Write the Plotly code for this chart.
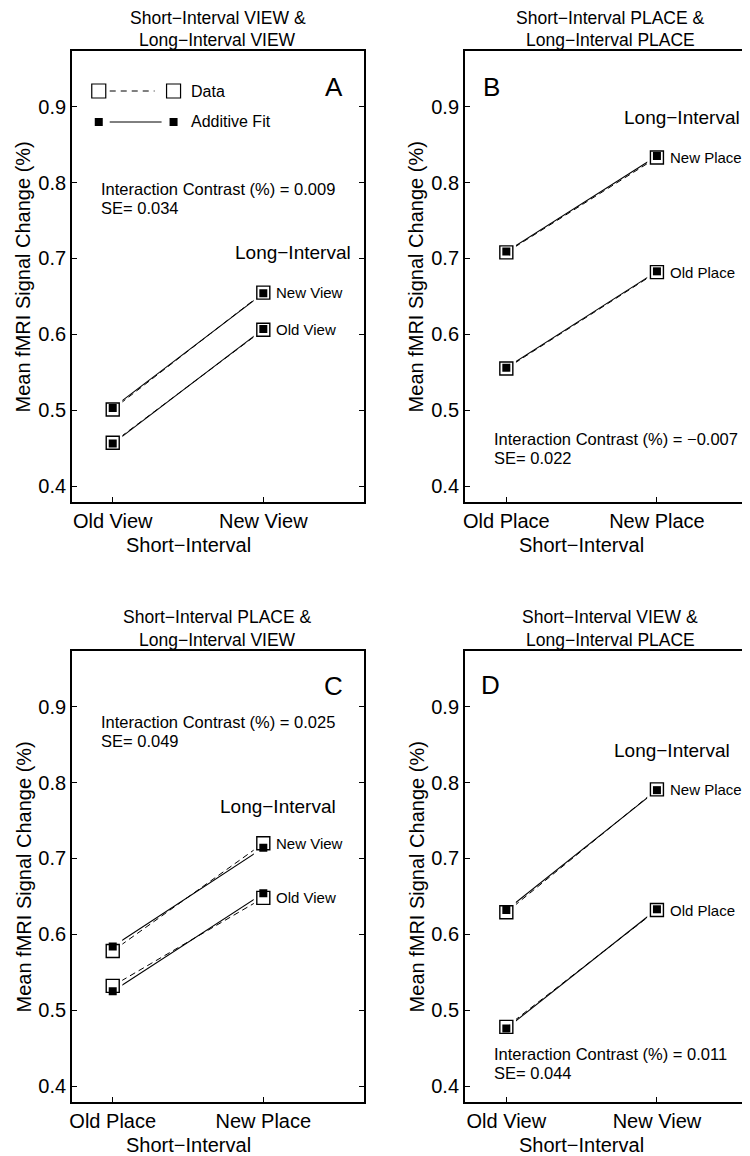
import plotly.graph_objects as go

# ---------------- data ----------------
short_ticks_A = ["Old View", "New View"]
short_ticks_B = ["Old Place", "New Place"]
short_ticks_C = ["Old Place", "New Place"]
short_ticks_D = ["Old View", "New View"]

long_labels_A = ["New View", "Old View"]
long_labels_B = ["New Place", "Old Place"]
long_labels_C = ["New View", "Old View"]
long_labels_D = ["New Place", "Old Place"]

# data = open squares, fit = filled squares; rows: long-interval new, long-interval old
data_A_new = [0.501, 0.655]
data_A_old = [0.457, 0.606]
fit_A_new = [0.503, 0.654]
fit_A_old = [0.456, 0.607]

data_B_new = [0.708, 0.833]
data_B_old = [0.555, 0.682]
fit_B_new = [0.709, 0.835]
fit_B_old = [0.556, 0.683]

data_C_new = [0.578, 0.720]
data_C_old = [0.532, 0.648]
fit_C_new = [0.584, 0.714]
fit_C_old = [0.525, 0.654]

data_D_new = [0.629, 0.791]
data_D_old = [0.478, 0.632]
fit_D_new = [0.632, 0.790]
fit_D_old = [0.476, 0.633]

titles = [
    ["Short\u2212Interval VIEW &", "Long\u2212Interval VIEW"],
    ["Short\u2212Interval PLACE &", "Long\u2212Interval PLACE"],
    ["Short\u2212Interval PLACE &", "Long\u2212Interval VIEW"],
    ["Short\u2212Interval VIEW &", "Long\u2212Interval PLACE"],
]
letters = ["A", "B", "C", "D"]
ic_texts = [
    ["Interaction Contrast (%) = 0.009", "SE= 0.034"],
    ["Interaction Contrast (%) = \u22120.007", "SE= 0.022"],
    ["Interaction Contrast (%) = 0.025", "SE= 0.049"],
    ["Interaction Contrast (%) = 0.011", "SE= 0.044"],
]
y_ticks = [0.4, 0.5, 0.6, 0.7, 0.8, 0.9]
y_tick_text = ["0.4", "0.5", "0.6", "0.7", "0.8", "0.9"]
x_pos = [1, 2]

FONT = "Liberation Sans, Arial, Helvetica, sans-serif"
OFF = 8  # page body margin of the browser
W, H = 750 - OFF, 1156 - OFF


def px(p):
    return (p - OFF) / W


def py(p):
    return 1 - (p - OFF) / H


panels = [
    dict(sfx="", xdom=[70, 363], ydom=[502, 51], xr=[0.7285, 2.6689], ymirror="ticks",
         ticks=short_ticks_A, longs=long_labels_A, data=[data_A_new, data_A_old], fit=[fit_A_new, fit_A_old],
         title_xy=(216.5, 18, 40), letter_xy=(333, 87), ic_xy=(97, 189, 208), long_xy=(232, 253)),
    dict(sfx="2", xdom=[464, 750], ydom=[502, 51], xr=[0.724, 2.618], ymirror=False,
         ticks=short_ticks_B, longs=long_labels_B, data=[data_B_new, data_B_old], fit=[fit_B_new, fit_B_old],
         title_xy=(610, 18, 40), letter_xy=(491, 87), ic_xy=(491, 439, 458), long_xy=(622, 118)),
    dict(sfx="3", xdom=[70, 363], ydom=[1102, 651], xr=[0.7285, 2.6689], ymirror="ticks",
         ticks=short_ticks_C, longs=long_labels_C, data=[data_C_new, data_C_old], fit=[fit_C_new, fit_C_old],
         title_xy=(216.5, 617, 640), letter_xy=(332, 686), ic_xy=(97, 722, 741), long_xy=(217, 806)),
    dict(sfx="4", xdom=[464, 750], ydom=[1102, 651], xr=[0.724, 2.618], ymirror=False,
         ticks=short_ticks_D, longs=long_labels_D, data=[data_D_new, data_D_old], fit=[fit_D_new, fit_D_old],
         title_xy=(610, 617, 640), letter_xy=(490, 685), ic_xy=(491, 1054, 1073), long_xy=(612, 750)),
]

fig = go.Figure()
annotations = []
shapes = []
layout_axes = {}

for i, p in enumerate(panels):
    xa = "x" + p["sfx"]
    ya = "y" + p["sfx"]
    for d in p["data"]:
        fig.add_trace(go.Scatter(x=x_pos, y=d, mode="lines", xaxis=xa, yaxis=ya,
                                 line=dict(color="black", width=1, dash="6px,4px"), hoverinfo="skip"))
    for f in p["fit"]:
        fig.add_trace(go.Scatter(x=x_pos, y=f, mode="lines", xaxis=xa, yaxis=ya,
                                 line=dict(color="black", width=1.1), hoverinfo="skip"))
    for d in p["data"] + p["fit"]:
        fig.add_trace(go.Scatter(x=x_pos, y=d, mode="markers", xaxis=xa, yaxis=ya,
                                 marker=dict(symbol="square", size=19, color="white", line=dict(width=0)),
                                 hoverinfo="skip"))
    for d in p["data"]:
        fig.add_trace(go.Scatter(x=x_pos, y=d, mode="markers", xaxis=xa, yaxis=ya,
                                 marker=dict(symbol="square", size=13, color="white",
                                             line=dict(color="black", width=1.4)),
                                 hoverinfo="skip"))
    for f in p["fit"]:
        fig.add_trace(go.Scatter(x=x_pos, y=f, mode="markers", xaxis=xa, yaxis=ya,
                                 marker=dict(symbol="square", size=8, color="black", line=dict(width=0)),
                                 hoverinfo="skip"))
    for d, lab in zip(p["data"], p["longs"]):
        annotations.append(dict(x=x_pos[1], y=d[1], xref=xa, yref=ya, text=lab, showarrow=False,
                                xanchor="left", yanchor="middle", xshift=11,
                                font=dict(family=FONT, size=15, color="black")))
    tx, ty1, ty2 = p["title_xy"]
    for t, yy in zip(titles[i], [ty1, ty2]):
        annotations.append(dict(x=px(tx), y=py(yy), xref="paper", yref="paper", text=t, showarrow=False,
                                xanchor="center", yanchor="middle",
                                font=dict(family=FONT, size=17.5, color="black")))
    lx, ly = p["letter_xy"]
    annotations.append(dict(x=px(lx), y=py(ly), xref="paper", yref="paper", text=letters[i], showarrow=False,
                            xanchor="center", yanchor="middle", font=dict(family=FONT, size=26, color="black")))
    ix, iy1, iy2 = p["ic_xy"]
    for t, yy in zip(ic_texts[i], [iy1, iy2]):
        annotations.append(dict(x=px(ix), y=py(yy), xref="paper", yref="paper", text=t, showarrow=False,
                                xanchor="left", yanchor="middle",
                                font=dict(family=FONT, size=16.5, color="black")))
    gx, gy = p["long_xy"]
    annotations.append(dict(x=px(gx), y=py(gy), xref="paper", yref="paper", text="Long\u2212Interval",
                            showarrow=False, xanchor="left", yanchor="middle",
                            font=dict(family=FONT, size=19, color="black")))
    annotations.append(dict(x=1.5, y=py(p["ydom"][0] + 43), xref=xa, yref="paper", text="Short\u2212Interval",
                            showarrow=False, xanchor="center", yanchor="middle",
                            font=dict(family=FONT, size=20, color="black")))
    annotations.append(dict(x=px(p["xdom"][0] - 48), y=py((p["ydom"][0] + p["ydom"][1]) / 2), xref="paper",
                            yref="paper", text="Mean fMRI Signal Change (%)", showarrow=False, textangle=-90,
                            xanchor="center", yanchor="middle", font=dict(family=FONT, size=20, color="black")))

    layout_axes["xaxis" + p["sfx"]] = dict(
        domain=[px(p["xdom"][0]), min(1.0, px(p["xdom"][1]))], range=p["xr"], anchor=ya,
        tickvals=x_pos, ticktext=p["ticks"], ticks="inside", ticklen=5, tickwidth=1, tickcolor="black",
        showline=True, linecolor="black", linewidth=1.5, mirror=True, showgrid=False, zeroline=False,
        tickfont=dict(family=FONT, size=20, color="black"), fixedrange=True)
    layout_axes["yaxis" + p["sfx"]] = dict(
        domain=[py(p["ydom"][0]), py(p["ydom"][1])], range=[0.379, 0.9734], anchor=xa,
        tickvals=y_ticks, ticktext=y_tick_text, ticks="inside", ticklen=5, tickwidth=1, tickcolor="black",
        showline=True, linecolor="black", linewidth=1.5, mirror=p["ymirror"], showgrid=False, zeroline=False,
        tickfont=dict(family=FONT, size=20, color="black"), fixedrange=True)

# custom legend of panel A (marker - line - marker)
for (yy, filled, dash, x_end, lab) in [(91, False, "6px,5px", 153, "Data"), (122, True, "solid", 160, "Additive Fit")]:
    shapes.append(dict(type="line", xref="paper", yref="paper", x0=px(108), x1=px(x_end), y0=py(yy), y1=py(yy),
                       line=dict(color="black", width=1, dash=dash)))
    for cx in [97, 172]:
        half = 4 if filled else 7
        shapes.append(dict(type="rect", xref="paper", yref="paper", xsizemode="pixel", ysizemode="pixel",
                           xanchor=px(cx), yanchor=py(yy), x0=-half, x1=half, y0=-half, y1=half,
                           fillcolor="black" if filled else "white",
                           line=dict(color="black", width=0 if filled else 1.2)))
    annotations.append(dict(x=px(187), y=py(yy), xref="paper", yref="paper", text=lab, showarrow=False,
                            xanchor="left", yanchor="middle", font=dict(family=FONT, size=16, color="black")))

fig.update_layout(width=W, height=H, autosize=False, margin=dict(l=0, r=0, t=0, b=0),
                  plot_bgcolor="white", paper_bgcolor="white", showlegend=False,
                  annotations=annotations, shapes=shapes, **layout_axes)

fig.write_html("out.html", config={"displayModeBar": False})
